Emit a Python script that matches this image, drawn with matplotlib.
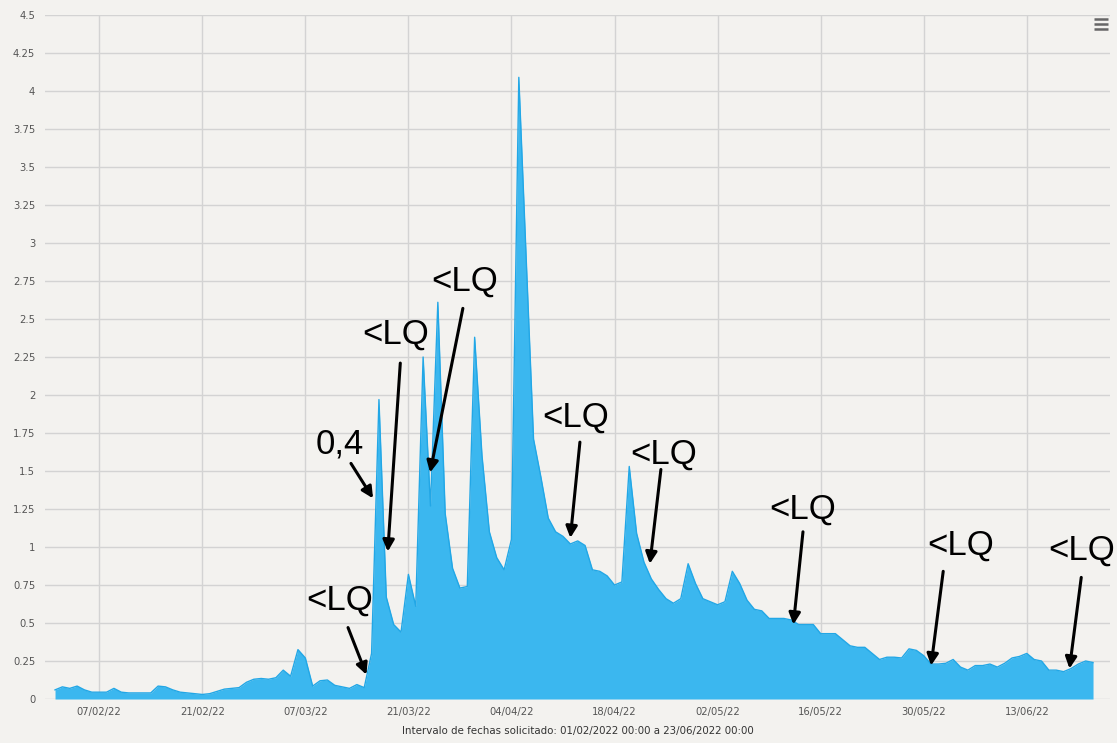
import matplotlib
matplotlib.use("Agg")
import matplotlib.pyplot as plt
import matplotlib.dates as mdates
from matplotlib.lines import Line2D
import numpy as np
import pandas as pd

# daily values, 01/02/2022 .. 22/06/2022
values = [
    0.06, 0.08, 0.07, 0.085, 0.06, 0.045, 0.045, 0.045, 0.07, 0.045,
    0.04, 0.04, 0.04, 0.04, 0.085, 0.08, 0.06, 0.045, 0.04, 0.035,
    0.03, 0.035, 0.05, 0.065, 0.07, 0.075, 0.11, 0.13, 0.135, 0.13,
    0.14, 0.19, 0.15, 0.325, 0.27, 0.085, 0.12, 0.125, 0.09, 0.08,
    0.07, 0.095, 0.075, 0.30, 1.97, 0.67, 0.49, 0.44, 0.82, 0.61,
    2.25, 1.27, 2.61, 1.22, 0.86, 0.73, 0.74, 2.38, 1.6, 1.1,
    0.93, 0.85, 1.05, 4.09, 2.9, 1.71, 1.46, 1.19, 1.10, 1.07,
    1.02, 1.04, 1.01, 0.85, 0.84, 0.81, 0.75, 0.77, 1.53, 1.09,
    0.90, 0.79, 0.72, 0.66, 0.63, 0.66, 0.89, 0.76, 0.66, 0.64,
    0.62, 0.64, 0.84, 0.76, 0.65, 0.59, 0.58, 0.53, 0.53, 0.53,
    0.52, 0.49, 0.49, 0.49, 0.43, 0.43, 0.43, 0.39, 0.35, 0.34,
    0.34, 0.30, 0.26, 0.275, 0.275, 0.27, 0.33, 0.32, 0.285, 0.23,
    0.23, 0.235, 0.26, 0.21, 0.19, 0.22, 0.22, 0.23, 0.21, 0.235,
    0.27, 0.28, 0.30, 0.26, 0.25, 0.19, 0.19, 0.18, 0.20, 0.23,
    0.25, 0.24,
]
start_date = "2022-02-01"
tick_start = "2022-02-07"
y_ticks = np.arange(0, 4.51, 0.25)
x_title = "Intervalo de fechas solicitado: 01/02/2022 00:00 a 23/06/2022 00:00"

# annotations: label, text centre (day, value), arrow tail, arrow tip
ann_labels = ["<LQ", "0,4", "<LQ", "<LQ", "<LQ", "<LQ", "<LQ", "<LQ", "<LQ"]
ann_text = [(38.7, 0.65), (38.7, 1.68), (46.2, 2.40), (55.7, 2.75), (70.65, 1.855),
            (82.7, 1.61), (101.5, 1.25), (123.0, 1.01), (139.5, 0.98)]
ann_tail = [(39.8, 0.47), (40.2, 1.55), (46.9, 2.21), (55.4, 2.57), (71.3, 1.69),
            (82.3, 1.51), (101.6, 1.10), (120.65, 0.84), (139.4, 0.80)]
ann_tip = [(42.3, 0.16), (43.2, 1.32), (45.2, 0.97), (50.95, 1.49), (70.0, 1.06),
           (80.8, 0.89), (100.3, 0.49), (119.0, 0.22), (137.8, 0.20)]

BG = "#f3f2ef"
FILL = "#3bb7ef"
LINE = "#22a7e6"
GRID = "#d3d3d3"

dates = pd.date_range(start_date, periods=len(values), freq="D")
x = mdates.date2num(dates)
x0 = x[0]

fig = plt.figure(figsize=(11.17, 7.43), dpi=100, facecolor=BG)
ax = fig.add_axes([0.0403, 0.0592, 0.9534, 0.9206])
ax.set_facecolor(BG)

ax.fill_between(x, values, 0, color=FILL, lw=0, zorder=2)
ax.plot(x, values, color=LINE, lw=1.0, zorder=3)

ax.set_xlim(x0 - 1.36, x0 + 143.3)
ax.set_ylim(0, 4.5)

ticks = pd.date_range(tick_start, dates[-1], freq="14D")
ax.set_xticks(mdates.date2num(ticks))
ax.xaxis.set_major_formatter(mdates.DateFormatter("%d/%m/%y"))
ax.set_yticks(y_ticks)
ax.set_yticklabels(["%g" % v for v in y_ticks])

ax.grid(True, color=GRID, lw=1.0, zorder=0)
ax.set_axisbelow(True)
for s in ax.spines.values():
    s.set_visible(False)
ax.tick_params(axis="both", length=0, labelsize=7.2, labelcolor="#555555")
ax.tick_params(axis="y", pad=7)
ax.tick_params(axis="x", pad=6)

ax.set_xlabel(x_title, fontsize=7.4, color="#333333", labelpad=6)

# hand-drawn style labels and arrows
for lab, t, a, b in zip(ann_labels, ann_text, ann_tail, ann_tip):
    ax.text(x0 + t[0], t[1], lab, ha="center", va="center", fontsize=25,
            family="Liberation Sans", color="black", zorder=5)
    ax.annotate("", xy=(x0 + b[0], b[1]), xytext=(x0 + a[0], a[1]),
                arrowprops=dict(arrowstyle="-|>", color="black", lw=2.2,
                                mutation_scale=17, shrinkA=0, shrinkB=0),
                zorder=5)

# menu icon top right
for yy in (0.9744, 0.9677, 0.961):
    fig.add_artist(Line2D([0.9794, 0.9919], [yy, yy], color="#666666", lw=1.8,
                          solid_capstyle="butt"))

fig.savefig("out.png", dpi=100, facecolor=BG)
